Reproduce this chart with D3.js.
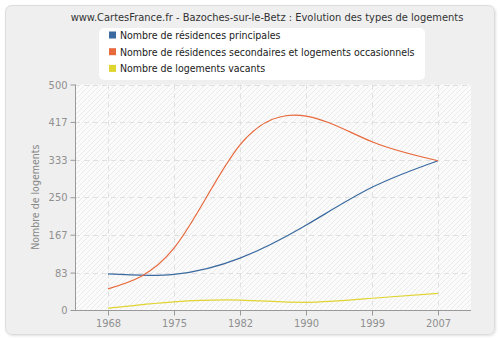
<!DOCTYPE html>
<html><head><meta charset="utf-8">
<script src="https://cdn.jsdelivr.net/npm/d3@7"></script>
<style>body{margin:0;background:#fff}svg{display:block;font-family:"DejaVu Sans Condensed","DejaVu Sans",sans-serif}</style>
</head><body><svg id="c" width="500" height="340"></svg>
<script>
const years = ["1968","1975","1982","1990","1999","2007"];
const principales = [80, 79, 115, 188, 272, 331];
const secondaires = [47, 137, 366, 430, 373, 331];
const vacants = [4, 18, 22, 17, 26, 37];
const yTicks = [0, 83, 167, 250, 333, 417, 500];
const seriesNames = ["Nombre de résidences principales","Nombre de résidences secondaires et logements occasionnels","Nombre de logements vacants"];
const colors = ["#3a6aa0","#e8693c","#e0d430"];
const title = "www.CartesFrance.fr - Bazoches-sur-le-Betz : Evolution des types de logements";
const yLabel = "Nombre de logements";

const svg = d3.select("#c");
const defs = svg.append("defs");
const pat = defs.append("pattern").attr("id","hatch").attr("patternUnits","userSpaceOnUse")
  .attr("width",5).attr("height",5);
pat.append("rect").attr("width",5).attr("height",5).attr("fill","#fbfbfb");
pat.append("path").attr("d","M-1,6 L6,-1 M-3,3 L3,-3 M2,8 L8,2").attr("stroke","#ebebeb").attr("stroke-width",1);
const sh = defs.append("filter").attr("id","sh").attr("x","-5%").attr("y","-5%").attr("width","110%").attr("height","110%");
sh.append("feDropShadow").attr("dx",1).attr("dy",1).attr("stdDeviation",1).attr("flood-color","#000").attr("flood-opacity",0.12);

svg.append("rect").attr("x",5.5).attr("y",5.5).attr("width",489).attr("height",329).attr("rx",6)
  .attr("fill","#efefef").attr("stroke","#dcdcdc").attr("filter","url(#sh)");

const L=75, R=471, T=84.5, B=310;
const x = d3.scalePoint().domain(years).range([L,R]).padding(0.5);
const y = d3.scaleLinear().domain([0,500]).range([B,T]);

svg.append("rect").attr("x",L).attr("y",T).attr("width",R-L).attr("height",B-T).attr("fill","url(#hatch)");

// grid
const g = svg.append("g");
g.selectAll(".hg").data(yTicks.slice(1)).join("line")
  .attr("x1",L).attr("x2",R).attr("y1",d=>Math.round(y(d))+0.5).attr("y2",d=>Math.round(y(d))+0.5)
  .attr("stroke","#e0e0e0").attr("stroke-dasharray","5,4");
g.selectAll(".vg").data(years).join("line")
  .attr("x1",d=>Math.round(x(d))+0.5).attr("x2",d=>Math.round(x(d))+0.5).attr("y1",T).attr("y2",B)
  .attr("stroke","#e0e0e0").attr("stroke-dasharray","5,4");

// axes
const yAxis = d3.axisLeft(y).tickValues(yTicks).tickSize(5).tickPadding(3);
const ya = svg.append("g").attr("transform",`translate(${L+0.5},0)`).call(yAxis);
const xAxis = d3.axisBottom(x).tickSize(5).tickPadding(4);
const xa = svg.append("g").attr("transform",`translate(0,${B+0.5})`).call(xAxis);
ya.select(".domain").attr("d",`M0,${T}V${B}`);
xa.select(".domain").attr("d",`M${L},0H${R}`);
[ya,xa].forEach(a=>{
  a.selectAll(".domain, .tick line").attr("stroke","#999");
  a.selectAll("text").attr("fill","#909090").attr("font-size","11px").attr("font-family","DejaVu Sans Condensed, DejaVu Sans, sans-serif");
});

svg.append("text").attr("transform",`translate(39,${(T+B)/2}) rotate(-90)`).attr("text-anchor","middle")
  .attr("fill","#888").attr("font-size","10.5px").text(yLabel);

// lines
const line = d3.line().x((d,i)=>x(years[i])).y(d=>y(d)).curve(d3.curveNatural);
[principales, secondaires, vacants].forEach((s,i)=>{
  svg.append("path").attr("d",line(s)).attr("fill","none").attr("stroke",colors[i]).attr("stroke-width",1.2);
});

// title
svg.append("text").attr("x",267).attr("y",21).attr("text-anchor","middle").attr("fill","#333")
  .attr("font-size","11px").text(title);

// legend
svg.append("rect").attr("x",99).attr("y",28).attr("width",326).attr("height",52).attr("rx",5)
  .attr("fill","#fff");
seriesNames.forEach((n,i)=>{
  const cy = 35 + i*16.7;
  svg.append("rect").attr("x",109).attr("y",cy-3.5).attr("width",7).attr("height",7).attr("fill",colors[i]);
  svg.append("text").attr("x",120).attr("y",cy+4).attr("fill","#222").attr("font-size","10.5px").text(n);
});
</script></body></html>
